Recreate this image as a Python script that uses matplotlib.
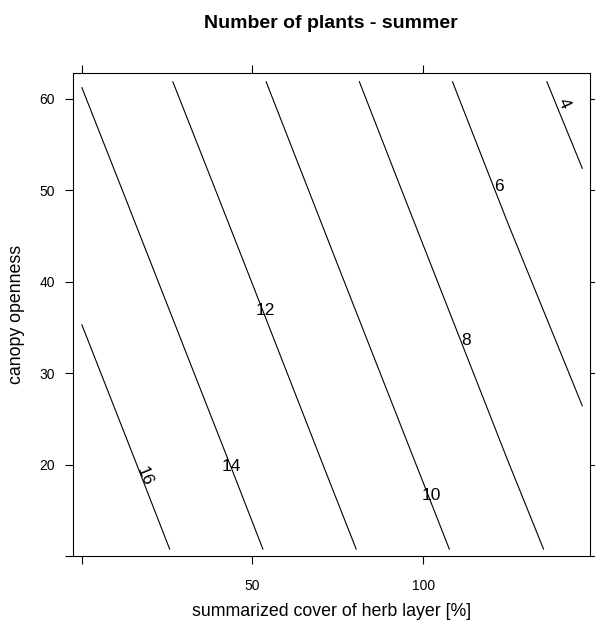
import matplotlib.pyplot as plt
import numpy as np

plt.rcParams['font.family'] = ['Liberation Sans', 'DejaVu Sans']

# predicted number of plants on a grid of herb cover x canopy openness
cover = [0, 25, 50, 75, 100, 125, 146.7]
openness = [10.7, 20, 30, 40, 50, 61.9]
plants = [
    [17.90, 16.06, 14.23, 12.40, 10.57, 8.73, 7.20],
    [17.18, 15.35, 13.52, 11.68, 9.85, 8.02, 6.49],
    [16.41, 14.58, 12.75, 10.91, 9.08, 7.25, 5.72],
    [15.64, 13.81, 11.98, 10.14, 8.31, 6.48, 4.95],
    [14.87, 13.04, 11.21, 9.37, 7.54, 5.71, 4.18],
    [13.95, 12.12, 10.29, 8.46, 6.63, 4.79, 3.26],
]
levels = [4, 6, 8, 10, 12, 14, 16]
# where each level gets its label, and its text angle
label_x = [141.1, 122.2, 112.5, 102.5, 53.9, 43.9, 18.5]
label_y = [59.5, 50.4, 33.6, 16.6, 36.8, 19.8, 18.7]
label_rot = [-65, 0, 0, 0, 0, 0, -68]

fig = plt.figure(figsize=(5.95, 6.24), dpi=100)
ax = fig.add_axes([73 / 595, 68 / 624, 517 / 595, 483 / 624])

ax.contour(cover, openness, np.array(plants), levels=levels,
           colors='black', linewidths=0.8)
for lev, lx, ly, rot in zip(levels, label_x, label_y, label_rot):
    ax.text(lx, ly, str(lev), ha='center', va='center', rotation=rot,
            fontsize=12.5, rotation_mode='anchor')

ax.set_xlim(-2.55, 148.9)
ax.set_ylim(10.0, 62.8)

ax.set_xticks([0, 50, 100])
ax.set_xticklabels(['', '50', '100'])
ax.set_yticks([10, 20, 30, 40, 50, 60])
ax.set_yticklabels(['', '20', '30', '40', '50', '60'])
ax.tick_params(direction='out', length=5.5, width=0.8, labelsize=10,
               top=True, right=True)
ax.tick_params(axis='x', pad=11)
ax.tick_params(axis='y', pad=7.5)
for s in ax.spines.values():
    s.set_linewidth(0.8)

ax.set_xlabel('summarized cover of herb layer [%]', fontsize=12.8, labelpad=7)
ax.set_ylabel('canopy openness', fontsize=12.8, labelpad=10)
fig.text(331 / 595, 1 - 24 / 624, 'Number of plants - summer',
         ha='center', va='center', fontsize=14, fontweight='bold')

fig.savefig('out.png', dpi=100)
